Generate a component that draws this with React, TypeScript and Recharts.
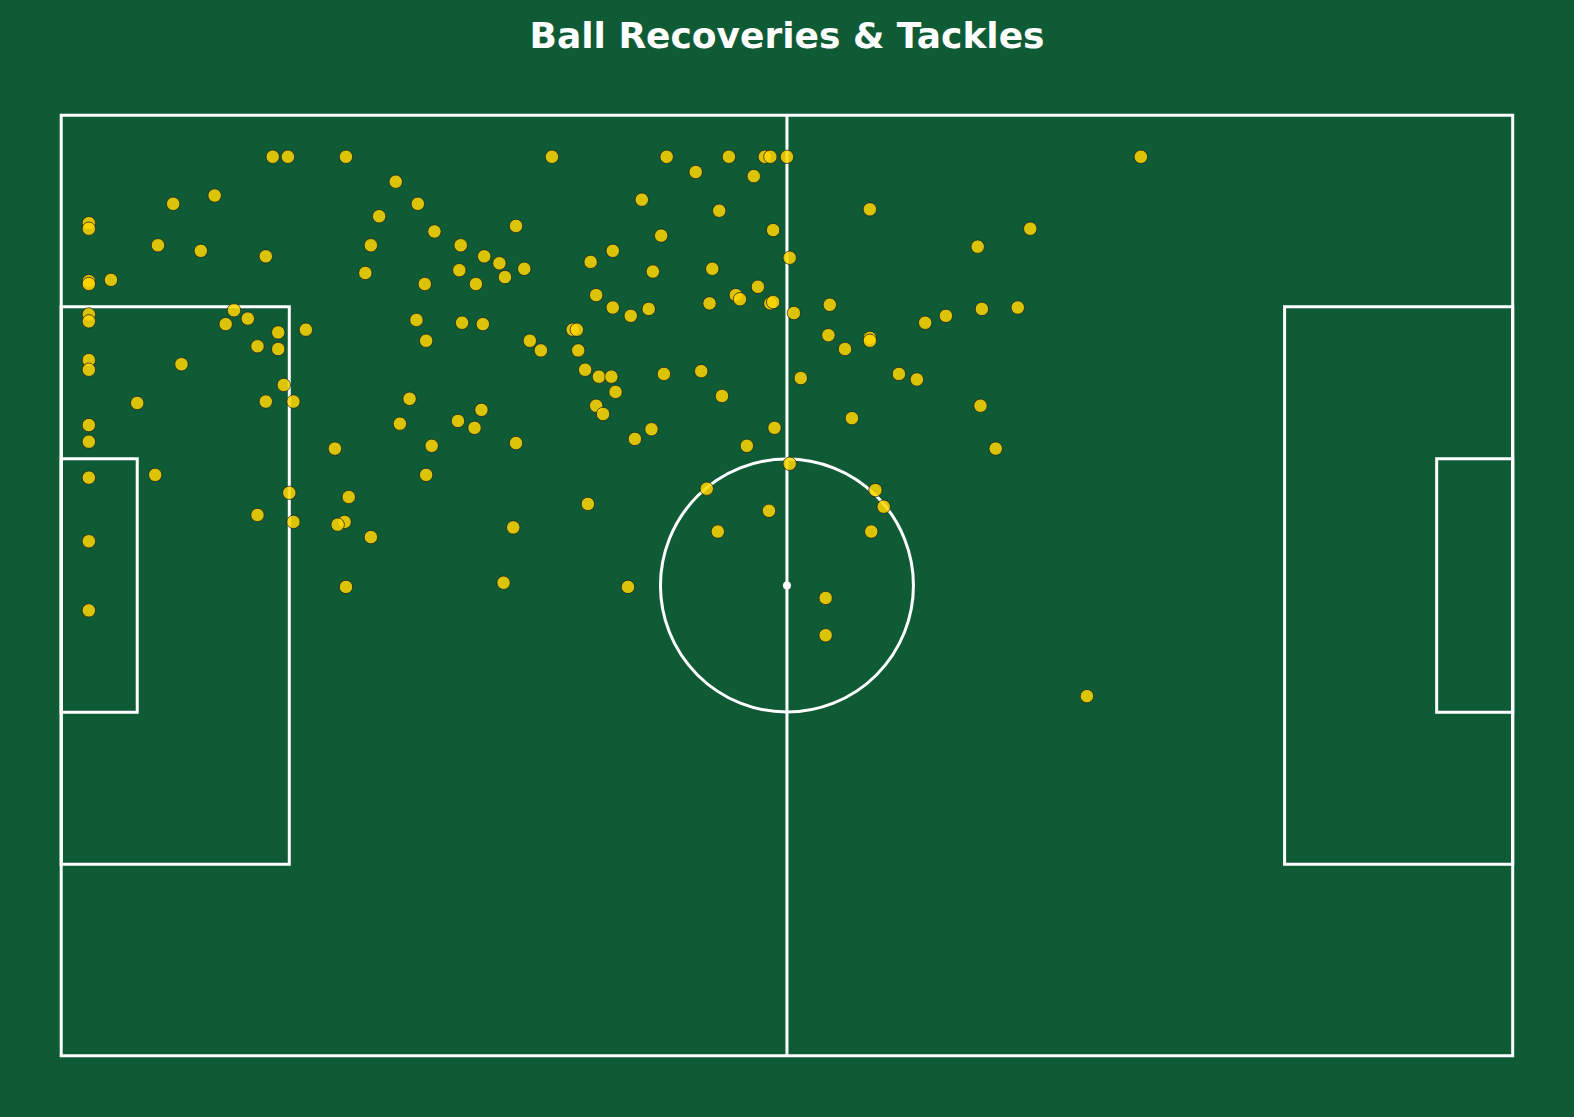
import { ScatterChart, Scatter, XAxis, YAxis, ReferenceArea, ReferenceLine, ReferenceDot } from 'recharts';

// pitch size in metres (105 x 68), y measured from the top touchline
const PITCH_LENGTH = 105;
const PITCH_WIDTH = 68;

const xs = [
  15.3, 16.4, 11.1, 8.1, 2.0, 2.0, 7.0, 10.1, 14.8, 2.0, 2.0, 3.6, 2.0, 2.0, 12.5, 11.9, 13.5, 15.7, 17.7, 14.2,
  15.7, 2.0, 2.0, 8.7, 16.1, 20.6, 35.5, 24.2, 25.8, 23.0, 27.0, 32.9, 22.4, 28.9, 30.6, 31.7, 22.0, 28.8, 32.1, 33.5,
  26.3, 30.0, 38.3, 39.9, 38.7, 39.9, 25.7, 29.0, 30.5, 26.4, 33.9, 34.7, 37.0, 37.3, 37.4, 37.9, 38.9, 39.8, 40.1, 38.7,
  39.2, 43.8, 48.3, 50.9, 51.3, 52.5, 45.9, 50.1, 42.0, 47.6, 58.5, 43.4, 51.5, 52.7, 42.8, 47.1, 50.4, 48.8, 49.1, 51.3,
  51.5, 41.2, 42.5, 46.9, 53.0, 55.6, 55.5, 56.7, 58.5, 58.5, 60.6, 43.6, 46.3, 53.5, 78.1, 70.1, 66.3, 66.6, 69.2, 64.0,
  62.5, 61.9, 5.5, 14.8, 16.8, 2.0, 2.0, 6.8, 2.0, 16.5, 14.2, 16.8, 2.0, 2.0, 25.2, 24.5, 28.7, 30.4, 29.9, 32.9,
  19.8, 26.8, 26.4, 20.8, 20.5, 20.0, 22.4, 32.7, 38.1, 20.6, 32.0, 47.8, 42.7, 41.5, 51.6, 49.6, 57.2, 52.7, 46.7, 58.9,
  59.5, 51.2, 47.5, 58.6, 41.0, 55.3, 55.3, 66.5, 67.6, 74.2,
];

const ys = [
  3.0, 3.0, 5.8, 6.4, 7.8, 8.2, 9.4, 9.8, 10.2, 12.0, 12.2, 11.9, 14.4, 14.9, 14.1, 15.1, 14.7, 15.7, 15.5, 16.7,
  16.9, 17.7, 18.4, 18.0, 19.5, 3.0, 3.0, 4.8, 6.4, 7.3, 8.4, 8.0, 9.4, 9.4, 10.2, 10.7, 11.4, 11.2, 11.7, 11.1,
  12.2, 12.2, 10.6, 9.8, 13.0, 13.9, 14.8, 15.0, 15.1, 16.3, 16.3, 17.0, 15.5, 15.5, 17.0, 18.4, 18.9, 18.9, 20.0, 21.0,
  21.6, 3.0, 3.0, 3.0, 3.0, 3.0, 4.1, 4.4, 6.1, 6.9, 6.8, 8.7, 8.3, 10.3, 11.3, 11.1, 12.4, 13.0, 13.3, 13.6,
  13.5, 14.5, 14.0, 13.6, 14.3, 13.7, 15.9, 16.9, 16.1, 16.3, 18.7, 18.7, 18.5, 19.0, 3.0, 8.2, 9.5, 14.0, 13.9, 14.5,
  15.0, 19.1, 20.8, 20.7, 20.7, 22.4, 23.6, 26.0, 26.2, 27.3, 28.9, 29.4, 30.8, 35.8, 20.5, 22.3, 22.1, 21.3, 22.6, 23.7,
  24.1, 23.9, 26.0, 27.6, 29.4, 29.6, 30.5, 29.8, 28.1, 34.1, 33.8, 20.3, 22.7, 23.4, 22.6, 23.9, 21.9, 25.2, 27.0, 27.1,
  28.3, 28.6, 30.1, 30.1, 34.1, 34.9, 37.6, 21.0, 24.1, 42.0,
];

const events = xs.map((x, i) => ({ x, y: ys[i] }));

const W = 1574;
const H = 1117;
const M = { top: 115.3, right: 61.3, bottom: 61.3, left: 61.2 };
const PX_PER_M = (W - M.left - M.right) / PITCH_LENGTH;

const BG = '#0f5b36';
const LINE = '#ffffff';

const box = { fill: 'none', fillOpacity: 0, stroke: LINE, strokeWidth: 3, ifOverflow: 'visible' as const };

export default function App() {
  return (
    <div style={{ position: 'absolute', left: 0, top: 0, width: W, height: H, background: BG }}>
      <svg width={W} height={80} style={{ position: 'absolute', left: 0, top: 0 }}>
        <text x={W / 2} y={48} textAnchor="middle" fill="#ffffff" fontFamily="DejaVu Sans" fontWeight="bold" fontSize={36}>
          Ball Recoveries &amp; Tackles
        </text>
      </svg>
      <ScatterChart width={W} height={H} margin={M}>
        <XAxis type="number" dataKey="x" domain={[0, PITCH_LENGTH]} hide allowDataOverflow />
        <YAxis type="number" dataKey="y" domain={[0, PITCH_WIDTH]} reversed hide allowDataOverflow />
        <ReferenceArea x1={0} x2={105} y1={0} y2={68} {...box} />
        <ReferenceArea x1={0} x2={16.5} y1={13.84} y2={54.16} {...box} />
        <ReferenceArea x1={88.5} x2={105} y1={13.84} y2={54.16} {...box} />
        <ReferenceArea x1={0} x2={5.5} y1={24.84} y2={43.16} {...box} />
        <ReferenceArea x1={99.5} x2={105} y1={24.84} y2={43.16} {...box} />
        <ReferenceLine x={52.5} stroke={LINE} strokeWidth={3} />
        <ReferenceDot x={52.5} y={34} r={9.15 * PX_PER_M} fill="none" stroke={LINE} strokeWidth={3} />
        <ReferenceDot x={52.5} y={34} r={4} fill={LINE} stroke="none" />
        <Scatter
          data={events}
          isAnimationActive={false}
          shape={(p: any) => (
            <circle
              cx={p.cx}
              cy={p.cy}
              r={6.7}
              fill="#FFD700"
              fillOpacity={0.85}
              stroke="#1a1a1a"
              strokeOpacity={0.9}
              strokeWidth={0.8}
            />
          )}
        />
      </ScatterChart>
    </div>
  );
}
